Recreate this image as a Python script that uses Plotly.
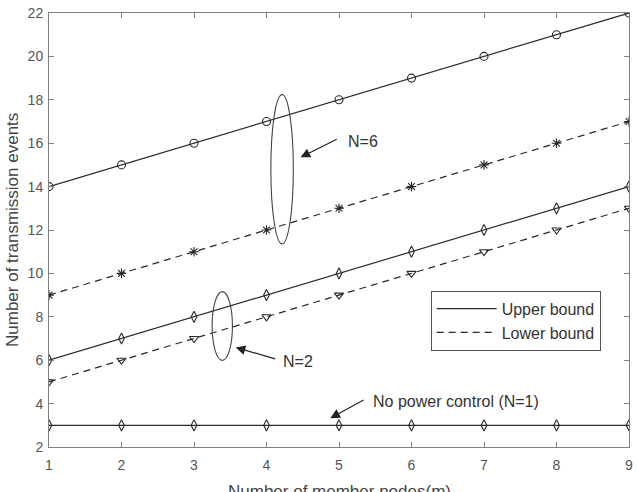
import plotly.graph_objects as go

m = [1, 2, 3, 4, 5, 6, 7, 8, 9]
n6_upper = [14, 15, 16, 17, 18, 19, 20, 21, 22]
n6_lower = [9, 10, 11, 12, 13, 14, 15, 16, 17]
n2_upper = [6, 7, 8, 9, 10, 11, 12, 13, 14]
n2_lower = [5, 6, 7, 8, 9, 10, 11, 12, 13]
no_pc = [3, 3, 3, 3, 3, 3, 3, 3, 3]

LC = "#2a2a2a"
DASH = "7px,5px"
FONT = "Liberation Sans, Arial, sans-serif"

fig = go.Figure()

def add(y, sym, dash, size=8):
    fig.add_trace(go.Scatter(
        x=m, y=y, mode="lines+markers", showlegend=False,
        line=dict(color=LC, width=1.2, dash=dash),
        marker=dict(symbol=sym, size=size, color=LC, line=dict(width=1.1, color=LC)),
    ))

add(n6_upper, "circle-open", "solid", 8)
add(n6_lower, "asterisk-open", DASH, 8)
add(n2_upper, "diamond-tall-open", "solid", 8)
add(n2_lower, "triangle-down-open", DASH, 8)
add(no_pc, "diamond-tall-open", "solid", 8)

# legend entries
fig.add_trace(go.Scatter(x=[None], y=[None], mode="lines", name="Upper bound",
                         line=dict(color=LC, width=1.2)))
fig.add_trace(go.Scatter(x=[None], y=[None], mode="lines", name="Lower bound",
                         line=dict(color=LC, width=1.2, dash=DASH)))

# ellipses
fig.add_shape(type="circle", xref="x", yref="y", x0=4.06, x1=4.37, y0=11.36, y1=18.24,
              line=dict(color="#444", width=1.1))
fig.add_shape(type="circle", xref="x", yref="y", x0=3.25, x1=3.53, y0=5.99, y1=9.16,
              line=dict(color="#444", width=1.1))

# arrows
arrows = [
    (4.47, 15.35, 4.99, 16.22),
    (3.575, 6.59, 4.14, 6.04),
    (4.88, 3.33, 5.36, 4.20),
]
for hx, hy, tx, ty in arrows:
    fig.add_annotation(x=hx, y=hy, ax=tx, ay=ty, xref="x", yref="y", axref="x", ayref="y",
                       showarrow=True, arrowhead=2, arrowsize=1.6, arrowwidth=1.2,
                       arrowcolor="#222", text="")

labels = [("N=6", 5.09, 16.08), ("N=2", 4.2, 5.94), ("No power control (N=1)", 5.44, 4.11)]
for t, x, y in labels:
    fig.add_annotation(x=x, y=y, xref="x", yref="y", text=t, showarrow=False,
                       xanchor="left", yanchor="middle",
                       font=dict(family=FONT, size=16, color="#333"))

# axis titles
fig.add_annotation(x=0.5, y=0, xref="paper", yref="paper", text="Number of member nodes(m)",
                   showarrow=False, xanchor="center", yanchor="top", yshift=-33,
                   font=dict(family=FONT, size=17, color="#444"))
fig.add_annotation(x=0, y=0.5, xref="paper", yref="paper", text="Number of transmission events",
                   showarrow=False, xanchor="center", yanchor="middle", xshift=-37,
                   textangle=-90, font=dict(family=FONT, size=17, color="#444"))

axis_common = dict(
    showline=True, linecolor="#808080", linewidth=1, mirror="ticks",
    ticks="inside", ticklen=5, tickcolor="#808080", showgrid=False, zeroline=False,
    tickfont=dict(family=FONT, size=14, color="#555"),
)

fig.update_layout(
    width=638, height=492,
    margin=dict(l=49, r=5, t=11, b=45),
    paper_bgcolor="white", plot_bgcolor="white",
    xaxis=dict(range=[1, 9], tickvals=m, ticklabelstandoff=5, **axis_common),
    yaxis=dict(range=[2, 22], tickvals=list(range(2, 23, 2)), ticklabelstandoff=2, **axis_common),
    legend=dict(x=0.658, y=0.36, xanchor="left", yanchor="top",
                bordercolor="#555", borderwidth=1, bgcolor="white",
                font=dict(family=FONT, size=16, color="#333"),
                itemwidth=60, tracegroupgap=0),
    showlegend=True,
)

fig.write_html("out.html")
